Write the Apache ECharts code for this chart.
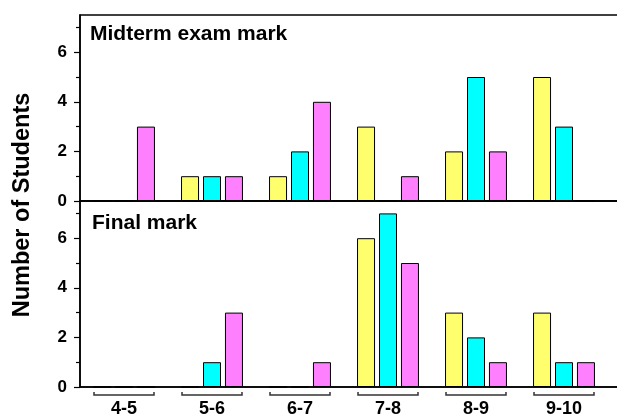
<!DOCTYPE html>
<html>
<head>
<meta charset="utf-8">
<script src="https://cdn.jsdelivr.net/npm/echarts@6/dist/echarts.min.js"></script>
<style>
  html, body { margin: 0; padding: 0; background: #fff; }
  #chart { width: 617px; height: 417px; }
</style>
</head>
<body>
<div id="chart"></div>
<script>
// Mark ranges (bins)
const categories = ['4-5', '5-6', '6-7', '7-8', '8-9', '9-10'];

// Midterm exam mark counts per group
const midtermYellow  = [0, 1, 1, 3, 2, 5];
const midtermCyan    = [0, 1, 2, 0, 5, 3];
const midtermMagenta = [3, 1, 4, 1, 2, 0];

// Final mark counts per group
const finalYellow  = [0, 0, 0, 6, 3, 3];
const finalCyan    = [0, 1, 0, 7, 2, 1];
const finalMagenta = [0, 3, 1, 5, 1, 1];

const majorTicks = [0, 2, 4, 6];
const minorTicks = [1, 3, 5, 7];

const FONT = "'Liberation Sans', Arial, sans-serif";
const COLORS = { yellow: '#FFFF6E', cyan: '#00FFFF', magenta: '#FF80FF' };

// one extra empty band keeps the frame running past the right edge
const xCats = categories.concat(['']);

function majorY(gridIndex) {
  return {
    type: 'value', gridIndex, min: 0, max: 7.5, interval: 2,
    axisLine: { show: true, lineStyle: { color: '#000', width: 1.5 } },
    axisTick: { show: true, length: 6, customValues: majorTicks, lineStyle: { color: '#000', width: 1.2 } },
    axisLabel: { customValues: majorTicks, margin: 13, color: '#000', fontFamily: FONT, fontWeight: 'bold', fontSize: 17 },
    splitLine: { show: false }
  };
}
function minorY(gridIndex) {
  return {
    type: 'value', gridIndex, min: 0, max: 7.5, position: 'left',
    axisLine: { show: false },
    axisTick: { show: true, length: 4, customValues: minorTicks, lineStyle: { color: '#000', width: 1.2 } },
    axisLabel: { show: false },
    splitLine: { show: false }
  };
}
function bars(name, data, color, xi, yi) {
  return {
    type: 'bar', name, data, xAxisIndex: xi, yAxisIndex: yi,
    barWidth: 18, barGap: '22%',
    itemStyle: { color, borderColor: '#000', borderWidth: 1 },
    silent: true
  };
}

const chart = echarts.init(document.getElementById('chart'), null, { renderer: 'canvas' });

const gridBase = {
  left: 80, width: 616, height: 186, show: true,
  borderColor: '#000', borderWidth: 1.5, backgroundColor: 'transparent',
  outerBoundsMode: 'none', containLabel: false
};

chart.setOption({
  animation: false,
  backgroundColor: '#fff',
  grid: [
    Object.assign({ top: 15 }, gridBase),
    Object.assign({ top: 201 }, gridBase)
  ],
  xAxis: [
    {
      type: 'category', gridIndex: 0, data: xCats,
      axisLine: { lineStyle: { color: '#000', width: 1.5 } },
      axisTick: { show: false }, axisLabel: { show: false }
    },
    {
      type: 'category', gridIndex: 1, data: xCats,
      axisLine: { lineStyle: { color: '#000', width: 1.5 } },
      axisTick: { show: false },
      axisLabel: { margin: 13, color: '#000', fontFamily: FONT, fontWeight: 'bold', fontSize: 18, interval: 0 }
    }
  ],
  yAxis: [majorY(0), minorY(0), majorY(1), minorY(1)],
  series: [
    bars('midterm-1', midtermYellow, COLORS.yellow, 0, 0),
    bars('midterm-2', midtermCyan, COLORS.cyan, 0, 0),
    bars('midterm-3', midtermMagenta, COLORS.magenta, 0, 0),
    bars('final-1', finalYellow, COLORS.yellow, 1, 2),
    bars('final-2', finalCyan, COLORS.cyan, 1, 2),
    bars('final-3', finalMagenta, COLORS.magenta, 1, 2),
    {
      // bracket under each mark range
      type: 'custom', xAxisIndex: 1, yAxisIndex: 2, silent: true, clip: false,
      data: categories.map((c, i) => [i, 0]),
      encode: { x: 0, y: 1 },
      renderItem: function (params, api) {
        const p = api.coord([api.value(0), 0]);
        const half = 30;
        return {
          type: 'polyline',
          shape: { points: [[p[0] - half, p[1] + 5], [p[0] - half, p[1] + 8], [p[0] + half, p[1] + 8], [p[0] + half, p[1] + 5]] },
          style: { stroke: '#333', lineWidth: 1.5, fill: null }
        };
      }
    }
  ],
  graphic: [
    {
      type: 'text', x: 23, y: 205, rotation: Math.PI / 2,
      style: { text: 'Number of Students', fill: '#000', font: "bold 23.5px 'Liberation Sans', Arial, sans-serif", align: 'center', verticalAlign: 'middle' }
    },
    {
      type: 'text', x: 90, y: 34.5,
      style: { text: 'Midterm exam mark', fill: '#000', font: "bold 21px 'Liberation Sans', Arial, sans-serif", align: 'left', verticalAlign: 'middle' }
    },
    {
      type: 'text', x: 92, y: 223.5,
      style: { text: 'Final mark', fill: '#000', font: "bold 21px 'Liberation Sans', Arial, sans-serif", align: 'left', verticalAlign: 'middle' }
    }
  ]
});
</script>
</body>
</html>
